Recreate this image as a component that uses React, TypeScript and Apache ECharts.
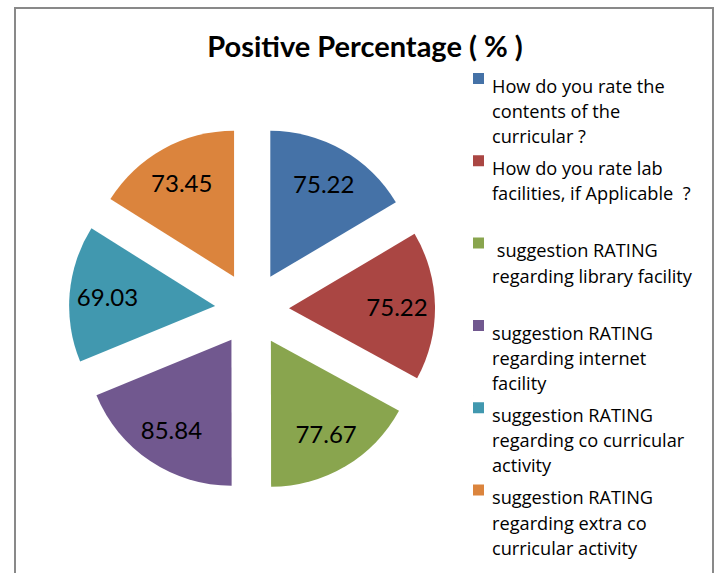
import React, { useEffect, useRef } from "react";
import * as echarts from "echarts";

const titleText = "Positive Percentage ( % )";
const categories = [
  "How do you rate the contents of the curricular ?",
  "How do you rate lab facilities, if Applicable ?",
  " suggestion RATING regarding library facility",
  "suggestion RATING regarding internet facility",
  "suggestion RATING regarding co curricular activity",
  "suggestion RATING regarding extra co curricular activity",
];
const legendLines = [
  ["How do you rate the", "contents of the", "curricular ?"],
  ["How do you rate lab", "facilities, if Applicable  ?", " "],
  [" suggestion RATING", "regarding library facility", " "],
  ["suggestion RATING", "regarding internet", "facility"],
  ["suggestion RATING", "regarding co curricular", "activity"],
  ["suggestion RATING", "regarding extra co", "curricular activity"],
];
const values = [75.22, 75.22, 77.67, 85.84, 69.03, 73.45];
const colors = ["#4572A7", "#AA4643", "#89A54E", "#71588F", "#4198AF", "#DB843D"];

export default function App() {
  const ref = useRef<HTMLDivElement>(null);
  useEffect(() => {
    if (!ref.current) return;
    const chart = echarts.init(ref.current, null, { renderer: "svg" });
    const font = "Lato, 'Open Sans', sans-serif";
    const center = [252, 309];
    const offset = 37;
    const mainData = categories.map((name, i) => ({
      name,
      value: values[i],
      selected: true,
      itemStyle: { color: colors[i] },
    }));
    const labelData = categories.map((name, i) => ({
      name,
      value: values[i],
      selected: true,
    }));
    chart.setOption({
      animation: false,
      backgroundColor: "#ffffff",
      title: {
        text: titleText,
        left: 365,
        top: 31,
        padding: 0,
        textAlign: "center",
        textStyle: { fontFamily: font, fontSize: 29, fontWeight: "bold", color: "#000" },
      },
      legend: {
        orient: "vertical",
        left: 473,
        top: 73,
        height: 540,
        padding: 0,
        itemWidth: 11,
        itemHeight: 76,
        itemGap: 6.3,
        icon: "path://M0,0H11V11H0Z M0,75.95H0.05V76H0Z",
        symbolKeepAspect: false,
        selectedMode: false,
        data: categories.map((name, i) => ({ name, itemStyle: { color: colors[i] } })),
        formatter: (name: string) => legendLines[categories.indexOf(name)].join("\n"),
        textStyle: {
          fontFamily: "'Open Sans', Lato, sans-serif",
          fontSize: 18.2,
          color: "#000",
          lineHeight: 25.3,
          padding: [0, 0, 0, 3],
        },
      },
      graphic: [
        {
          type: "rect",
          shape: { x: 15, y: 8, width: 698, height: 620 },
          style: { fill: "none", stroke: "#898989", lineWidth: 2 },
          silent: true,
          z: -1,
        },
      ],
      series: [
        {
          type: "pie",
          center,
          radius: [0, 146],
          startAngle: 90,
          clockwise: true,
          selectedMode: "multiple",
          selectedOffset: offset,
          label: { show: false },
          labelLine: { show: false },
          emphasis: { disabled: true },
          select: { itemStyle: {} },
          data: mainData,
        },
        {
          type: "pie",
          center,
          radius: [64, 146],
          startAngle: 90,
          clockwise: true,
          silent: true,
          selectedMode: "multiple",
          selectedOffset: offset,
          itemStyle: { color: "rgba(0,0,0,0)" },
          label: {
            show: true,
            position: "inside",
            formatter: (p: any) => p.value.toFixed(2),
            fontFamily: font,
            fontSize: 24,
            color: "#000",
            offset: [0, 3],
          },
          labelLine: { show: false },
          emphasis: { disabled: true },
          data: labelData,
        },
      ],
    });
    return () => chart.dispose();
  }, []);
  return (
    <div
      ref={ref}
      style={{ position: "fixed", left: 0, top: 0, width: 719, height: 573 }}
    />
  );
}
